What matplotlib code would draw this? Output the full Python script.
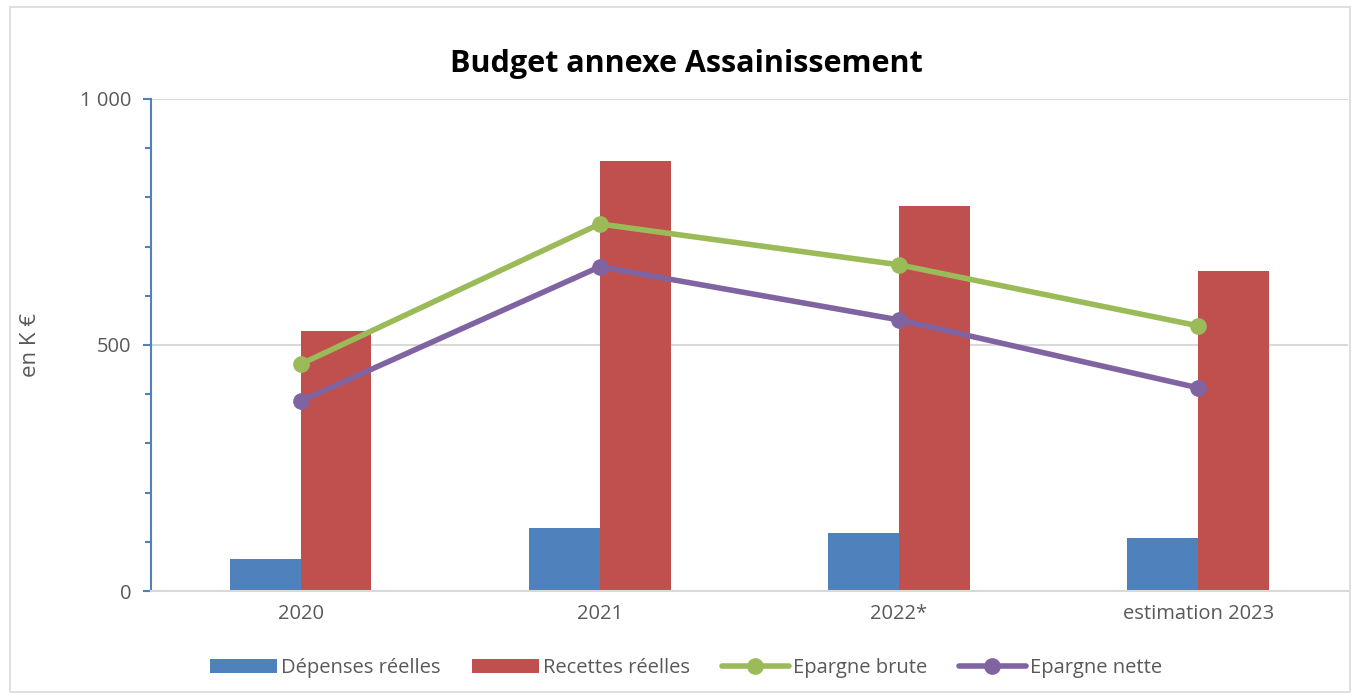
import numpy as np
import matplotlib
matplotlib.use("Agg")
import matplotlib.pyplot as plt
from matplotlib.patches import Rectangle

# data (K EUR)
categories = ["2020", "2021", "2022*", "estimation 2023"]
depenses = [65, 128, 118, 108]
recettes = [528, 874, 782, 650]
epargne_brute = [461, 746, 663, 539]
epargne_nette = [386, 659, 551, 413]

plt.rcParams['font.family'] = ['Open Sans', 'DejaVu Sans']
gray_txt = "#595959"

fig = plt.figure(figsize=(13.6, 6.95), dpi=100)
ax = fig.add_axes([0.111, 0.1496, 0.880, 0.708])

x = np.arange(len(categories))
w = 0.237
b1 = ax.bar(x - w / 2, depenses, width=w, color="#4F81BD", label="Dépenses réelles", zorder=2)
b2 = ax.bar(x + w / 2, recettes, width=w, color="#C0504D", label="Recettes réelles", zorder=2)
l1, = ax.plot(x, epargne_brute, color="#9BBB59", lw=4, marker="o", ms=11,
              label="Epargne brute", zorder=3, solid_capstyle="round")
l2, = ax.plot(x, epargne_nette, color="#8064A2", lw=4, marker="o", ms=11,
              label="Epargne nette", zorder=3, solid_capstyle="round")

ax.set_xlim(-0.5, len(categories) - 0.5)
ax.set_ylim(0, 1000)
ax.set_xticks(x)
ax.set_xticklabels(categories)
ax.set_yticks([0, 500, 1000])
ax.set_yticklabels(["0", "500", "1 000"])
ax.set_yticks(np.arange(0, 1001, 100), minor=True)
ax.tick_params(axis="y", which="major", length=6, color="#4F81BD", width=1.5,
               labelsize=14.5, labelcolor=gray_txt, pad=8)
ax.tick_params(axis="y", which="minor", length=4, color="#4F81BD", width=1.5)
ax.tick_params(axis="x", length=0, labelsize=14.5, labelcolor=gray_txt, pad=9)

for s in ["top", "right"]:
    ax.spines[s].set_visible(False)
ax.spines["left"].set_color("#4F81BD")
ax.spines["left"].set_linewidth(1.5)
ax.spines["bottom"].set_color("#D9D9D9")
ax.spines["bottom"].set_linewidth(1.5)
ax.grid(axis="y", which="major", color="#D9D9D9", lw=1.5, zorder=0)
ax.set_axisbelow(True)

ax.set_ylabel("en K €", fontsize=16, color=gray_txt, labelpad=28)
fig.text(0.505, 0.908, "Budget annexe Assainissement", ha="center", va="center",
         fontsize=22, fontweight="bold", color="black")

ax.legend([b1, b2, l1, l2],
          ["Dépenses réelles", "Recettes réelles", "Epargne brute", "Epargne nette"],
          loc="upper center", bbox_to_anchor=(0.447, -0.1), ncol=4, frameon=False,
          fontsize=14.5, labelcolor=gray_txt, handlelength=3.3, handletextpad=0.2,
          columnspacing=1.6)

fig.patches.append(Rectangle((0.007, 0.005), 0.986, 0.985, transform=fig.transFigure,
                             fill=False, edgecolor="#D9D9D9", lw=1.2))

fig.savefig("out.png", dpi=100)
